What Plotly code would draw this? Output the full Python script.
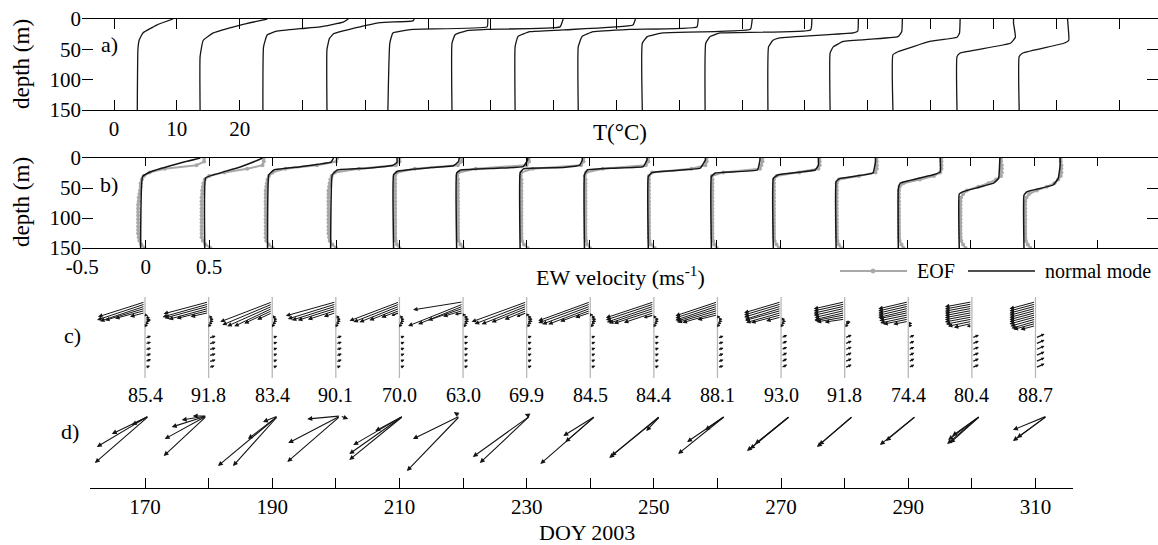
import plotly.graph_objects as go

W, H = 1158, 545
FONT = "Liberation Serif"

# ---------------- shared ----------------
doy = [170, 180, 190, 200, 210, 220, 230, 240, 250, 260, 270, 280, 290, 300, 310]
pct = ["85.4", "91.8", "83.4", "90.1", "70.0", "63.0", "69.9", "84.5",
       "84.4", "88.1", "93.0", "91.8", "74.4", "80.4", "88.7"]

# ---------------- a) temperature profiles ----------------
T_OFFSET = 10.0  # successive profiles shifted by 10 degC
t_depth = [
    [0, 10, 23, 35, 51, 150],
    [0, 10, 23, 35, 62, 150],
    [0, 5, 13, 16, 20, 26, 46, 150],
    [0, 3, 6, 17, 24, 32, 50, 150],
    [0, 13, 17, 23, 40, 150],
    [0, 13, 17, 19, 26, 40, 150],
    [0, 10, 18, 21, 29, 46, 150],
    [0, 13, 17, 21, 29, 46, 150],
    [0, 17, 23, 29, 40, 150],
    [0, 18, 23, 29, 40, 150],
    [0, 20, 23, 31, 35, 46, 150],
    [0, 21, 29, 37, 46, 56, 150],
    [0, 23, 30, 37, 54, 59, 150],
    [0, 7, 30, 40, 56, 62, 150],
    [0, 13, 35, 40, 56, 62, 150],
]
t_temp = [
    [9.4, 6.8, 4.6, 4.0, 3.8, 3.7],
    [14.4, 10.1, 5.8, 4.2, 3.7, 3.7],
    [17.3, 16.5, 12.8, 9.6, 5.9, 4.4, 3.8, 3.7],
    [17.8, 17.6, 12.4, 7.5, 5.0, 4.3, 3.9, 3.9],
    [19.5, 19.4, 7.6, 4.4, 3.9, 3.6],
    [21.5, 21.0, 9.4, 6.2, 4.3, 3.8, 3.8],
    [23.0, 22.6, 11.5, 6.2, 4.3, 3.85, 3.85],
    [23.0, 22.8, 12.2, 6.3, 4.5, 3.9, 3.9],
    [21.6, 21.3, 7.4, 4.9, 4.1, 4.1],
    [21.1, 20.9, 6.5, 4.9, 4.2, 4.1],
    [18.5, 18.4, 17.7, 6.0, 4.9, 4.2, 4.1],
    [15.5, 15.4, 14.8, 6.1, 4.5, 4.0, 4.0],
    [14.7, 14.6, 14.2, 9.9, 4.8, 4.0, 4.0],
    [13.2, 13.2, 13.5, 12.7, 4.7, 4.2, 4.2],
    [11.8, 11.9, 12.0, 11.2, 4.7, 4.1, 4.1],
]

# ---------------- b) EW velocity: normal mode and EOF ----------------
U_OFFSET = 0.5  # successive profiles shifted by 0.5 m/s
nm_depth = [
    [0, 8, 23, 31, 150],
    [0, 3, 14.5, 28, 33, 150],
    [0, 7, 14.5, 20, 28, 150],
    [0, 7, 12, 17, 20, 28, 150],
    [0, 6, 13, 16, 22, 28, 150],
    [0, 3, 14.5, 17, 20, 25, 150],
    [0, 3, 12, 16, 18, 25, 150],
    [0, 3, 14.5, 17, 20, 28, 150],
    [0, 3, 17, 24, 31, 150],
    [0, 3, 20, 25, 31, 150],
    [0, 12, 20, 28, 34, 150],
    [0, 6, 25, 34, 39, 150],
    [0, 23, 28, 42, 51, 150],
    [0, 34, 42, 56, 60, 150],
    [0, 12, 34, 45, 56, 62, 150],
]
nm_u = [
    [0.43, 0.28, 0.04, -0.025, -0.04],
    [0.42, 0.39, 0.25, 0.035, -0.028, -0.035],
    [0.48, 0.46, 0.22, 0.01, -0.03, -0.04],
    [0.48, 0.48, 0.45, 0.245, 0.01, -0.03, -0.043],
    [0.47, 0.465, 0.425, 0.244, -0.016, -0.047, -0.047],
    [0.51, 0.51, 0.475, 0.27, -0.02, -0.05, -0.05],
    [0.44, 0.44, 0.42, 0.29, -0.024, -0.05, -0.05],
    [0.45, 0.45, 0.42, 0.185, -0.02, -0.043, -0.043],
    [0.41, 0.41, 0.37, -0.008, -0.04, -0.04],
    [0.34, 0.34, 0.32, -0.012, -0.043, -0.043],
    [0.30, 0.30, 0.275, -0.016, -0.055, -0.055],
    [0.25, 0.25, 0.23, -0.03, -0.06, -0.06],
    [0.26, 0.26, 0.205, -0.055, -0.07, -0.07],
    [0.23, 0.22, 0.18, -0.06, -0.09, -0.09],
    [0.205, 0.205, 0.19, 0.15, -0.055, -0.08, -0.08],
]
eof_depth = [0, 6, 12, 18, 24, 30, 36, 42, 48, 54, 60, 66, 72, 78, 84,
             90, 96, 102, 108, 114, 120, 126, 132, 138, 144, 150]
eof_u = [
    [.46, .46, .40, .15, .03, -.015, -.03, -.04, -.04, -.045, -.05, -.055, -.055, -.06, -.06, -.06, -.06, -.06, -.06, -.06, -.06, -.06, -.055, -.05, -.035, -.01],
    [.43, .43, .42, .30, .12, .0, -.035, -.045, -.05, -.055, -.055, -.06, -.06, -.06, -.06, -.06, -.06, -.06, -.06, -.06, -.06, -.06, -.06, -.05, -.03, .01],
    [.51, .50, .35, .10, .0, -.03, -.04, -.045, -.05, -.055, -.055, -.055, -.055, -.055, -.055, -.055, -.055, -.055, -.055, -.055, -.055, -.055, -.055, -.05, -.03, .0],
    [.50, .50, .47, .18, -.01, -.035, -.045, -.05, -.055, -.06, -.06, -.06, -.06, -.06, -.06, -.06, -.06, -.06, -.06, -.06, -.06, -.06, -.055, -.05, -.03, .0],
    [.49, .49, .46, .12, -.02, -.035, -.035, -.035, -.035, -.035, -.035, -.035, -.035, -.035, -.035, -.035, -.035, -.035, -.035, -.035, -.035, -.035, -.035, -.03, -.02, .0],
    [.52, .52, .50, .10, -.035, -.045, -.04, -.04, -.04, -.04, -.04, -.04, -.04, -.04, -.04, -.04, -.04, -.04, -.04, -.04, -.04, -.04, -.04, -.035, -.02, .0],
    [.45, .45, .43, .05, -.04, -.045, -.04, -.04, -.04, -.04, -.04, -.04, -.04, -.04, -.04, -.04, -.04, -.04, -.04, -.04, -.04, -.04, -.04, -.035, -.02, .01],
    [.46, .46, .44, .10, -.03, -.04, -.035, -.035, -.035, -.035, -.035, -.035, -.035, -.035, -.035, -.035, -.035, -.035, -.035, -.035, -.035, -.035, -.035, -.03, -.02, .0],
    [.42, .42, .41, .30, -.01, -.035, -.035, -.035, -.035, -.035, -.035, -.035, -.035, -.035, -.035, -.035, -.035, -.035, -.035, -.035, -.035, -.035, -.035, -.03, -.02, .01],
    [.36, .36, .35, .34, .05, -.04, -.035, -.035, -.035, -.035, -.035, -.035, -.035, -.035, -.035, -.035, -.035, -.035, -.035, -.035, -.035, -.035, -.035, -.03, -.02, .0],
    [.31, .31, .31, .30, .15, -.03, -.05, -.05, -.05, -.05, -.05, -.05, -.05, -.05, -.05, -.05, -.05, -.05, -.05, -.05, -.05, -.05, -.05, -.045, -.03, -.01],
    [.26, .26, .26, .26, .25, .12, -.04, -.055, -.055, -.055, -.055, -.055, -.055, -.055, -.055, -.055, -.055, -.055, -.055, -.055, -.055, -.055, -.055, -.05, -.04, -.02],
    [.27, .27, .27, .27, .26, .21, .10, -.03, -.06, -.065, -.065, -.065, -.065, -.065, -.065, -.065, -.065, -.065, -.065, -.065, -.065, -.065, -.065, -.06, -.045, -.03],
    [.24, .24, .245, .245, .245, .24, .20, .14, .06, -.03, -.06, -.075, -.08, -.08, -.08, -.08, -.08, -.08, -.08, -.08, -.08, -.08, -.08, -.075, -.06, -.04],
    [.21, .21, .215, .215, .215, .21, .19, .16, .10, .02, -.04, -.06, -.07, -.07, -.07, -.07, -.07, -.07, -.07, -.07, -.07, -.07, -.07, -.065, -.05, -.03],
]

# ---------------- c) EOF velocity vectors with depth ----------------
c_depth = [9, 13, 17, 21, 25, 29, 33, 37, 41, 45, 49, 53, 76, 87, 98, 109, 120, 131]
c_u = [
    [-0.47, -0.48, -0.45, -0.40, -0.30, -0.15, 0.03, 0.05, 0.06, 0.05, 0.04, 0.03, 0.06, 0.06, 0.06, 0.06, 0.06, 0.05],
    [-0.45, -0.46, -0.44, -0.40, -0.32, -0.18, 0.02, 0.04, 0.05, 0.05, 0.04, 0.03, 0.07, 0.07, 0.07, 0.07, 0.07, 0.06],
    [-0.52, -0.50, -0.45, -0.38, -0.28, -0.15, 0.02, 0.04, 0.05, 0.05, 0.04, 0.03, 0.05, 0.05, 0.05, 0.05, 0.05, 0.05],
    [-0.50, -0.48, -0.44, -0.38, -0.28, -0.12, 0.02, 0.04, 0.05, 0.05, 0.04, 0.03, 0.06, 0.06, 0.06, 0.06, 0.06, 0.05],
    [-0.50, -0.46, -0.40, -0.30, -0.18, -0.08, 0.02, 0.04, 0.05, 0.05, 0.04, 0.03, 0.05, 0.05, 0.05, 0.05, 0.05, 0.05],
    [-0.50, -0.55, -0.45, -0.35, -0.20, -0.08, 0.03, 0.05, 0.06, 0.06, 0.05, 0.04, 0.05, 0.05, 0.05, 0.05, 0.05, 0.05],
    [-0.55, -0.52, -0.45, -0.35, -0.22, -0.10, 0.03, 0.05, 0.06, 0.06, 0.05, 0.04, 0.05, 0.05, 0.05, 0.05, 0.05, 0.05],
    [-0.52, -0.52, -0.48, -0.42, -0.30, -0.15, 0.03, 0.05, 0.06, 0.06, 0.05, 0.04, 0.05, 0.05, 0.05, 0.05, 0.05, 0.05],
    [-0.48, -0.48, -0.47, -0.45, -0.40, -0.30, -0.10, 0.03, 0.05, 0.05, 0.04, 0.03, 0.05, 0.05, 0.05, 0.05, 0.05, 0.05],
    [-0.42, -0.42, -0.42, -0.41, -0.40, -0.35, -0.20, 0.03, 0.05, 0.05, 0.04, 0.03, 0.06, 0.06, 0.06, 0.06, 0.06, 0.06],
    [-0.37, -0.37, -0.37, -0.36, -0.36, -0.35, -0.30, -0.15, 0.04, 0.05, 0.04, 0.03, 0.06, 0.06, 0.06, 0.06, 0.06, 0.06],
    [-0.31, -0.31, -0.31, -0.31, -0.30, -0.30, -0.30, -0.28, -0.20, 0.06, 0.05, 0.04, 0.07, 0.07, 0.07, 0.07, 0.07, 0.07],
    [-0.30, -0.30, -0.30, -0.30, -0.30, -0.29, -0.29, -0.28, -0.25, -0.15, 0.04, 0.04, 0.06, 0.06, 0.06, 0.06, 0.06, 0.06],
    [-0.27, -0.27, -0.27, -0.27, -0.27, -0.27, -0.27, -0.27, -0.26, -0.24, -0.18, -0.05, 0.07, 0.07, 0.07, 0.07, 0.07, 0.07],
    [-0.26, -0.26, -0.26, -0.26, -0.26, -0.26, -0.26, -0.26, -0.25, -0.24, -0.22, -0.15, 0.09, 0.09, 0.09, 0.09, 0.09, 0.09],
]
c_v = [
    [-0.15, -0.16, -0.15, -0.12, -0.08, -0.04, -0.01, -0.01, -0.01, 0.0, 0.0, 0.0, 0.02, 0.02, 0.02, 0.02, 0.025, 0.02],
    [-0.12, -0.13, -0.12, -0.11, -0.08, -0.04, 0.0, 0.0, 0.0, 0.0, 0.0, 0.0, 0.02, 0.02, 0.02, 0.02, 0.02, 0.02],
    [-0.20, -0.21, -0.20, -0.18, -0.13, -0.07, 0.0, 0.0, 0.0, 0.0, 0.0, 0.0, 0.02, 0.02, 0.02, 0.02, 0.02, 0.02],
    [-0.14, -0.15, -0.14, -0.12, -0.09, -0.04, 0.0, 0.0, 0.0, 0.0, 0.0, 0.0, 0.02, 0.02, 0.02, 0.02, 0.02, 0.02],
    [-0.19, -0.18, -0.16, -0.12, -0.07, -0.03, 0.0, 0.0, 0.0, 0.0, 0.0, 0.0, 0.02, 0.02, 0.02, 0.02, 0.02, 0.02],
    [-0.08, -0.22, -0.18, -0.12, -0.06, -0.02, 0.0, 0.0, 0.0, 0.0, 0.0, 0.0, 0.02, 0.02, 0.02, 0.02, 0.02, 0.02],
    [-0.20, -0.20, -0.18, -0.14, -0.09, -0.04, 0.0, 0.0, 0.0, 0.0, 0.0, 0.0, 0.02, 0.02, 0.02, 0.02, 0.02, 0.02],
    [-0.19, -0.19, -0.18, -0.16, -0.11, -0.05, 0.0, 0.0, 0.0, 0.0, 0.0, 0.0, 0.02, 0.02, 0.02, 0.02, 0.02, 0.02],
    [-0.16, -0.16, -0.16, -0.15, -0.13, -0.10, -0.03, 0.0, 0.0, 0.0, 0.0, 0.0, 0.02, 0.02, 0.02, 0.02, 0.02, 0.02],
    [-0.14, -0.14, -0.14, -0.13, -0.12, -0.10, -0.05, 0.0, 0.0, 0.0, 0.0, 0.0, 0.02, 0.02, 0.02, 0.02, 0.02, 0.02],
    [-0.11, -0.11, -0.11, -0.11, -0.10, -0.10, -0.08, -0.04, 0.0, 0.0, 0.0, 0.0, 0.03, 0.03, 0.03, 0.03, 0.03, 0.03],
    [-0.07, -0.07, -0.07, -0.07, -0.07, -0.07, -0.06, -0.05, -0.03, -0.01, 0.0, 0.0, 0.03, 0.03, 0.03, 0.03, 0.03, 0.03],
    [-0.07, -0.07, -0.07, -0.07, -0.07, -0.06, -0.06, -0.06, -0.05, -0.03, 0.0, 0.0, 0.03, 0.03, 0.03, 0.03, 0.03, 0.03],
    [-0.05, -0.05, -0.05, -0.05, -0.05, -0.05, -0.05, -0.05, -0.05, -0.05, -0.04, -0.01, 0.03, 0.03, 0.03, 0.03, 0.03, 0.03],
    [-0.07, -0.07, -0.07, -0.07, -0.07, -0.07, -0.07, -0.07, -0.07, -0.07, -0.06, -0.04, 0.04, 0.04, 0.04, 0.04, 0.04, 0.04],
]

# ---------------- d) mode direction vectors ----------------
d_doy = [170.6, 179.7, 190.9, 200.7, 210.6, 219.5, 230.5, 240.8,
         251.0, 261.2, 271.4, 281.3, 291.2, 301.3, 311.8]
d_u = [
    [-0.54, -0.52, -0.37, -0.17],
    [-0.43, -0.42, -0.35, -0.25, -0.14],
    [-0.60, -0.45, -0.30, -0.15],
    [-0.53, -0.52, -0.33, 0.08],
    [-0.54, -0.54, -0.50, -0.28],
    [-0.53, -0.47, -0.06],
    [-0.57, -0.50, -0.05],
    [-0.55, -0.32, -0.30],
    [-0.51, -0.49, -0.14],
    [-0.47, -0.38, -0.20],
    [-0.43, -0.40, -0.35],
    [-0.36, -0.34],
    [-0.36, -0.30],
    [-0.33, -0.32, -0.30, -0.28],
    [-0.34, -0.34, -0.30],
]
d_v = [
    [-0.47, -0.31, -0.18, -0.09],
    [-0.40, -0.23, -0.11, -0.04, 0.0],
    [-0.50, -0.50, -0.23, -0.06],
    [-0.46, -0.27, -0.03, -0.03],
    [-0.44, -0.38, -0.29, -0.15],
    [-0.55, -0.23, 0.04],
    [-0.41, -0.47, 0.02],
    [-0.48, -0.20, -0.26],
    [-0.42, -0.40, -0.15],
    [-0.38, -0.26, -0.14],
    [-0.35, -0.33, -0.28],
    [-0.31, -0.29],
    [-0.29, -0.25],
    [-0.28, -0.24, -0.27, -0.20],
    [-0.25, -0.14, -0.22],
]

# ---------------- geometry helpers (pixel -> paper) ----------------
def px(x):
    return x / W


def py(y):
    return 1 - y / H


A_X = [-5.1, 166.2]
B_X = [-0.502, 7.976]
DOY_X = [161.35, 315.9]
DOY_DOM = [90, 1073]
C_Y = [150, 0]
C_DOM = [297, 378]
D_Y = [-0.72, 0.11]
D_DOM = [405, 488]

VEC_PX = 100.0  # pixels drawn per 1 m/s in the vector panels
px_per_day = (DOY_DOM[1] - DOY_DOM[0]) / (DOY_X[1] - DOY_X[0])
days_per_ms = VEC_PX / px_per_day
c_m_per_ms = VEC_PX * (C_Y[0] - C_Y[1]) / (C_DOM[1] - C_DOM[0])
d_units_per_ms = VEC_PX * (D_Y[1] - D_Y[0]) / (D_DOM[1] - D_DOM[0])

BLACK = "#151515"
GRAY = "#a8a8a8"

fig = go.Figure()

# a) temperature
for k in range(len(t_temp)):
    fig.add_trace(go.Scatter(
        x=[t + T_OFFSET * k for t in t_temp[k]], y=t_depth[k], mode="lines",
        line=dict(color=BLACK, width=1.3, shape="spline", smoothing=0.35),
        xaxis="x", yaxis="y", showlegend=False, hoverinfo="skip"))

# b) EOF (gray, dotted markers) and normal mode (black)
for k in range(len(eof_u)):
    fig.add_trace(go.Scatter(
        x=[u + U_OFFSET * k for u in eof_u[k]], y=eof_depth, mode="lines+markers",
        line=dict(color=GRAY, width=2), marker=dict(color=GRAY, size=4),
        xaxis="x2", yaxis="y2", showlegend=False, hoverinfo="skip"))
for k in range(len(nm_u)):
    fig.add_trace(go.Scatter(
        x=[u + U_OFFSET * k for u in nm_u[k]], y=nm_depth[k], mode="lines",
        line=dict(color=BLACK, width=1.5, shape="spline", smoothing=0.3),
        xaxis="x2", yaxis="y2", showlegend=False, hoverinfo="skip"))

# c) gray reference line for each window
for k, d0 in enumerate(doy):
    fig.add_trace(go.Scatter(
        x=[d0, d0], y=[0, 150], mode="lines",
        line=dict(color="#b8b8b8", width=1.3),
        xaxis="x4", yaxis="y4", showlegend=False, hoverinfo="skip"))

annotations = []


def arrow(xr, yr, x0, y0, x1, y1, size=0.9, width=1.0, head=2):
    return dict(x=x1, y=y1, ax=x0, ay=y0, xref=xr, yref=yr, axref=xr, ayref=yr,
                text="", showarrow=True, arrowhead=head, arrowsize=size,
                arrowwidth=width, arrowcolor=BLACK, standoff=0, startstandoff=0)


for k, d0 in enumerate(doy):
    for j, dep in enumerate(c_depth):
        u, v = c_u[k][j], c_v[k][j]
        small = abs(u) < 0.12
        annotations.append(arrow("x4", "y4", d0, dep,
                                 d0 + u * days_per_ms, dep - v * c_m_per_ms,
                                 size=0.5 if small else 0.9,
                                 width=1.3 if small else 1.0))

for k, d0 in enumerate(d_doy):
    for u, v in zip(d_u[k], d_v[k]):
        annotations.append(arrow("x3", "y3", d0, 0.0,
                                 d0 + u * days_per_ms, v * d_units_per_ms,
                                 size=0.9, width=1.1))


def text(s, x, y, size=21, angle=0, xanchor="center"):
    annotations.append(dict(text=s, x=px(x), y=py(y), xref="paper", yref="paper",
                            showarrow=False, xanchor=xanchor, yanchor="middle",
                            textangle=angle,
                            font=dict(family=FONT, size=size, color="black")))


text("depth (m)", 21, 64, size=23, angle=-90)
text("depth (m)", 21, 202, size=23, angle=-90)
text("a)", 109, 45, size=22)
text("b)", 109, 184, size=22)
text("c)", 72, 335, size=22)
text("d)", 70, 431, size=22)
text("T(°C)", 620, 133, size=23)
text("EW velocity (ms<sup>-1</sup>)", 620, 276, size=22)
text("DOY 2003", 587, 532, size=22)
text("EOF", 915, 271, size=20, xanchor="left")
text("normal mode", 1043, 271, size=20, xanchor="left")
for k, d0 in enumerate(doy):
    annotations.append(dict(text=pct[k], x=d0, y=py(395), xref="x4", yref="paper",
                            showarrow=False, xanchor="center", yanchor="middle",
                            font=dict(family=FONT, size=20, color="black")))

shapes = [
    dict(type="line", xref="paper", yref="paper", x0=px(840), x1=px(907),
         y0=py(271), y1=py(271), line=dict(color=GRAY, width=2)),
    dict(type="circle", xref="paper", yref="paper", x0=px(871), x1=px(875),
         y0=py(273), y1=py(269), line=dict(color=GRAY, width=1), fillcolor=GRAY),
    dict(type="line", xref="paper", yref="paper", x0=px(968), x1=px(1035),
         y0=py(271), y1=py(271), line=dict(color=BLACK, width=1.5)),
]

tickfont = dict(family=FONT, size=21, color="black")
base = dict(showgrid=False, zeroline=False, tickfont=tickfont, ticks="inside",
            tickcolor="black", tickwidth=1, linecolor="black", linewidth=1.2,
            automargin=False)

a_ticks = [10 * i for i in range(17)]
b_ticks = [-0.5 + 0.5 * i for i in range(18)]
d_ticks = list(range(170, 311, 10))

fig.update_layout(
    template="none",
    width=W, height=H, margin=dict(l=0, r=0, t=0, b=0, pad=0),
    paper_bgcolor="white", plot_bgcolor="white", showlegend=False,
    xaxis=dict(base, domain=[px(82), 1.0], range=A_X, anchor="y",
               showline=True, mirror="ticks", ticklen=10,
               tickvals=a_ticks, ticktext=["0", "10", "20"] + [""] * (len(a_ticks) - 3)),
    yaxis=dict(base, domain=[py(110), py(19)], range=[150, 0], anchor="x",
               showline=False, mirror="ticks", ticklen=11, tickvals=[0, 50, 100, 150]),
    xaxis2=dict(base, domain=[px(82), 1.0], range=B_X, anchor="y2",
                showline=True, mirror="ticks", ticklen=8,
                tickvals=b_ticks, ticktext=["-0.5", "0", "0.5"] + [""] * (len(b_ticks) - 3)),
    yaxis2=dict(base, domain=[py(248), py(158)], range=[150, 0], anchor="x2",
                showline=False, mirror="ticks", ticklen=11, tickvals=[0, 50, 100, 150]),
    xaxis3=dict(base, domain=[px(DOY_DOM[0]), px(DOY_DOM[1])], range=DOY_X, anchor="y3",
                showline=True, ticklen=10, tickvals=d_ticks,
                ticktext=[str(t) if (t - 170) % 20 == 0 else "" for t in d_ticks]),
    yaxis3=dict(domain=[py(D_DOM[1]), py(D_DOM[0])], range=D_Y, anchor="x3", visible=False),
    xaxis4=dict(domain=[px(DOY_DOM[0]), px(DOY_DOM[1])], range=DOY_X, anchor="y4", visible=False),
    yaxis4=dict(domain=[py(C_DOM[1]), py(C_DOM[0])], range=C_Y, anchor="x4", visible=False),
    annotations=annotations, shapes=shapes,
)

fig.write_html("out.html")
